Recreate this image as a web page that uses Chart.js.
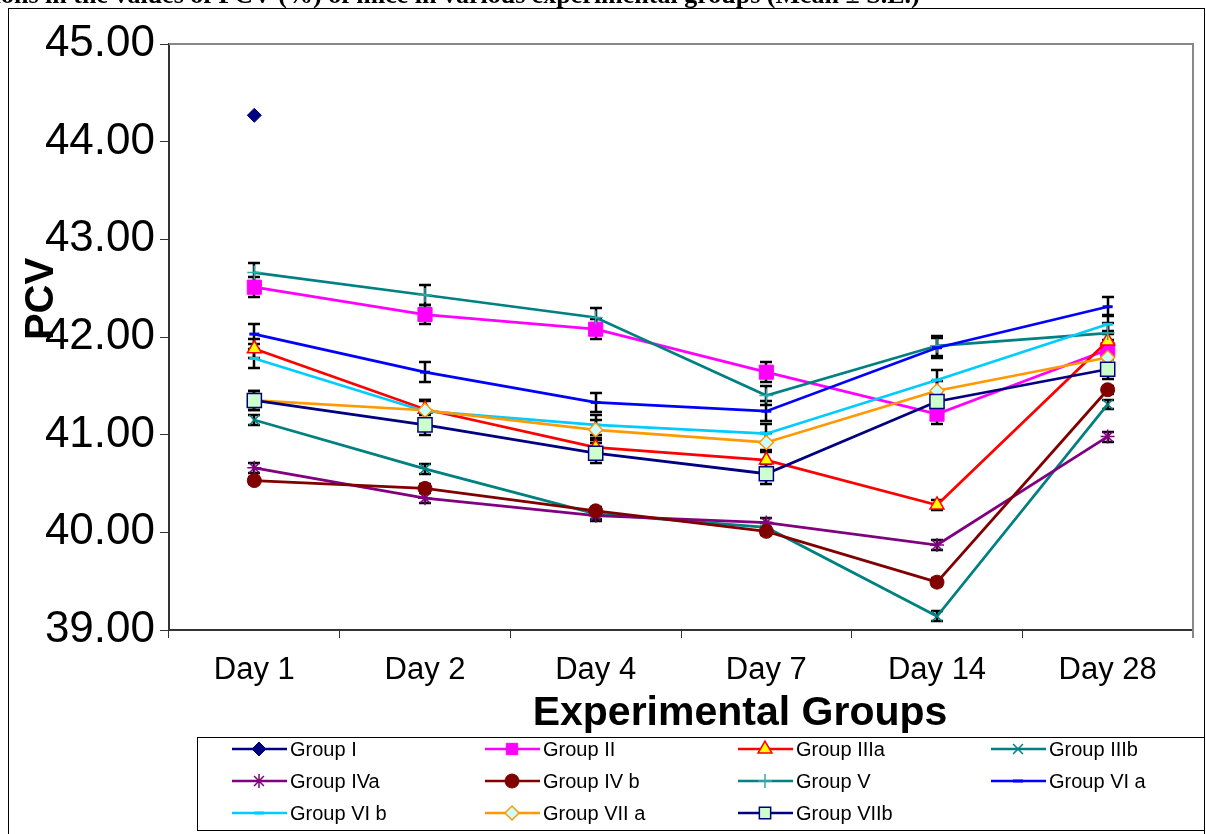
<!DOCTYPE html>
<html>
<head>
<meta charset="utf-8">
<script src="https://cdn.jsdelivr.net/npm/chart.js@4.4.0/dist/chart.umd.min.js"></script>
<style>
html,body{margin:0;padding:0;background:#fff;}
#wrap{position:relative;width:1206px;height:834px;overflow:hidden;}
canvas{display:block;}
</style>
</head>
<body>
<div id="wrap"><canvas id="c" width="1206" height="834"></canvas></div>
<script>
const chartTitle = 'Variations in the values of PCV (%) of mice in various experimental groups (Mean ± S.E.)';
const yAxisTitle = 'PCV';
const xAxisTitle = 'Experimental Groups';
const categories = ['Day 1', 'Day 2', 'Day 4', 'Day 7', 'Day 14', 'Day 28'];
const yTicks = [39, 40, 41, 42, 43, 44, 45];

const seriesNames = ['Group I', 'Group II', 'Group IIIa', 'Group IIIb', 'Group IVa', 'Group IV b',
  'Group V', 'Group VI a', 'Group VI b', 'Group VII a', 'Group VIIb'];

const groupI    = [44.27, null, null, null, null, null];
const groupII   = [42.51, 42.23, 42.08, 41.64, 41.21, 41.87];
const groupIIIa = [41.88, 41.26, 40.87, 40.74, 40.28, 41.96];
const groupIIIb = [41.15, 40.65, 40.19, 40.05, 39.14, 41.31];
const groupIVa  = [40.66, 40.35, 40.17, 40.10, 39.87, 40.98];
const groupIVb  = [40.53, 40.45, 40.22, 40.01, 39.49, 41.46];
const groupV    = [42.66, 42.43, 42.20, 41.40, 41.91, 42.04];
const groupVIa  = [42.03, 41.64, 41.33, 41.24, 41.89, 42.31];
const groupVIb  = [41.78, 41.24, 41.10, 41.01, 41.56, 42.13];
const groupVIIa = [41.35, 41.25, 41.05, 40.92, 41.45, 41.79];
const groupVIIb = [41.35, 41.10, 40.81, 40.60, 41.34, 41.67];

const errI    = [0, 0, 0, 0, 0, 0];
const errII   = [0.10, 0.10, 0.10, 0.10, 0.10, 0.10];
const errIIIa = [0.10, 0.10, 0.10, 0.10, 0.05, 0.10];
const errIIIb = [0.05, 0.05, 0.05, 0.05, 0.05, 0.05];
const errIVa  = [0.05, 0.05, 0.05, 0.05, 0.05, 0.05];
const errIVb  = [0.04, 0.04, 0.04, 0.04, 0.04, 0.04];
const errV    = [0.10, 0.10, 0.10, 0.10, 0.10, 0.10];
const errVIa  = [0.10, 0.10, 0.10, 0.10, 0.10, 0.10];
const errVIb  = [0.10, 0.10, 0.10, 0.10, 0.10, 0.10];
const errVIIa = [0.10, 0.10, 0.10, 0.10, 0.10, 0.10];
const errVIIb = [0.10, 0.10, 0.10, 0.10, 0.10, 0.10];

const seriesValues = [groupI, groupII, groupIIIa, groupIIIb, groupIVa, groupIVb, groupV, groupVIa, groupVIb, groupVIIa, groupVIIb];
const seriesErrors = [errI, errII, errIIIa, errIIIb, errIVa, errIVb, errV, errVIa, errVIb, errVIIa, errVIIb];

const styles = [
  {line:'#000080', fill:'#000080', stroke:'#000080', shape:'rectRot', r:7, bw:1},
  {line:'#FF00FF', fill:'#FF00FF', stroke:'#FF00FF', shape:'rect', r:10, bw:1},
  {line:'#FF0000', fill:'#FFFF00', stroke:'#FF0000', shape:'triangle', r:8, bw:1.5},
  {line:'#008080', fill:'#008080', stroke:'#008080', shape:'crossRot', r:7, bw:1.5},
  {line:'#800080', fill:'#800080', stroke:'#800080', shape:'star', r:7, bw:1.5},
  {line:'#800000', fill:'#800000', stroke:'#800000', shape:'circle', r:7, bw:1},
  {line:'#008080', fill:'#008080', stroke:'#33AAAA', shape:'cross', r:7, bw:1.5},
  {line:'#0000FF', fill:'#FFFFFF', stroke:'#0000FF', shape:'line', r:5, bw:3},
  {line:'#00CCFF', fill:'#FFFFFF', stroke:'#00CCFF', shape:'line', r:5, bw:3},
  {line:'#FF9900', fill:'#CCFFFF', stroke:'#FF9900', shape:'rectRot', r:7, bw:1.5},
  {line:'#000080', fill:'#CCFFCC', stroke:'#000080', shape:'rect', r:10, bw:1.5}
];

const datasets = seriesNames.map((name, i) => ({
  label: name,
  data: seriesValues[i],
  errors: seriesErrors[i],
  borderColor: styles[i].line,
  backgroundColor: styles[i].fill,
  borderWidth: 2.75,
  pointStyle: styles[i].shape,
  pointRadius: styles[i].r,
  pointHoverRadius: styles[i].r,
  pointBackgroundColor: styles[i].fill,
  pointBorderColor: styles[i].stroke,
  pointBorderWidth: styles[i].bw,
  tension: 0,
  spanGaps: false,
  order: seriesNames.length - i
}));

function drawMarker(ctx, s, x, y) {
  const r = s.r;
  ctx.save();
  ctx.fillStyle = s.fill; ctx.strokeStyle = s.stroke; ctx.lineWidth = s.bw;
  ctx.beginPath();
  switch (s.shape) {
    case 'rectRot':
      ctx.moveTo(x - r, y); ctx.lineTo(x, y - r); ctx.lineTo(x + r, y); ctx.lineTo(x, y + r); ctx.closePath();
      ctx.fill(); ctx.stroke(); break;
    case 'rect': {
      const h = r * Math.SQRT1_2;
      ctx.rect(x - h, y - h, 2 * h, 2 * h); ctx.fill(); ctx.stroke(); break; }
    case 'triangle': {
      for (let k = 0; k < 3; k++) {
        const a = k * 2 * Math.PI / 3;
        const px = x + Math.sin(a) * r, py = y - Math.cos(a) * r;
        if (k === 0) ctx.moveTo(px, py); else ctx.lineTo(px, py);
      }
      ctx.closePath(); ctx.fill(); ctx.stroke(); break; }
    case 'circle':
      ctx.arc(x, y, r, 0, Math.PI * 2); ctx.fill(); ctx.stroke(); break;
    case 'crossRot': {
      const h = r * Math.SQRT1_2;
      ctx.moveTo(x - h, y - h); ctx.lineTo(x + h, y + h); ctx.moveTo(x - h, y + h); ctx.lineTo(x + h, y - h); ctx.stroke(); break; }
    case 'cross':
      ctx.moveTo(x, y - r); ctx.lineTo(x, y + r); ctx.moveTo(x - r, y); ctx.lineTo(x + r, y); ctx.stroke(); break;
    case 'star': {
      const h = r * Math.SQRT1_2;
      ctx.moveTo(x, y - r); ctx.lineTo(x, y + r); ctx.moveTo(x - h, y - h); ctx.lineTo(x + h, y + h); ctx.moveTo(x - h, y + h); ctx.lineTo(x + h, y - h); ctx.stroke(); break; }
    case 'line':
      ctx.moveTo(x - r, y); ctx.lineTo(x + r, y); ctx.stroke(); break;
  }
  ctx.restore();
}

const framePlugin = {
  id: 'frame',
  beforeDraw(chart) {
    const ctx = chart.ctx;
    ctx.save();
    ctx.fillStyle = '#fff';
    ctx.fillRect(0, 0, chart.width, chart.height);
    // title (cropped at top)
    ctx.font = 'bold 26px "Liberation Serif"';
    ctx.fillStyle = '#000';
    ctx.textBaseline = 'alphabetic';
    ctx.textAlign = 'left';
    const pre = ctx.measureText('Variati').width;
    ctx.fillText(chartTitle, 1 - pre, 3);
    // outer frame
    ctx.strokeStyle = '#000';
    ctx.lineWidth = 1;
    ctx.strokeRect(8.5, 8.5, 1196, 900);
    ctx.restore();
  },
  beforeDatasetsDraw(chart) {
    const ctx = chart.ctx, a = chart.chartArea;
    ctx.save();
    ctx.strokeStyle = '#888';
    ctx.lineWidth = 2;
    ctx.beginPath();
    ctx.moveTo(a.left, a.top); ctx.lineTo(a.right, a.top); ctx.lineTo(a.right, a.bottom + 8);
    ctx.stroke();
    // error bars
    const ys = chart.scales.y;
    ctx.strokeStyle = '#000';
    ctx.lineWidth = 2.5;
    chart.data.datasets.forEach((ds, i) => {
      const meta = chart.getDatasetMeta(i);
      meta.data.forEach((pt, j) => {
        const v = ds.data[j], e = ds.errors[j];
        if (v == null || !e) return;
        const t = Math.round(ys.getPixelForValue(v + e)), b = Math.round(ys.getPixelForValue(v - e));
        const x = Math.round(pt.x);
        ctx.beginPath();
        ctx.moveTo(x, t); ctx.lineTo(x, b);
        ctx.moveTo(x - 6, t); ctx.lineTo(x + 6, t);
        ctx.moveTo(x - 6, b); ctx.lineTo(x + 6, b);
        ctx.stroke();
      });
    });
    ctx.restore();
  },
  afterDraw(chart) {
    const ctx = chart.ctx;
    ctx.save();
    ctx.fillStyle = '#000';
    // axis titles
    ctx.font = 'bold 41px "Liberation Sans"';
    ctx.textAlign = 'center';
    ctx.textBaseline = 'middle';
    ctx.fillText(xAxisTitle, 740, 714);
    ctx.font = 'bold 40px "Liberation Sans"';
    ctx.translate(42, 299);
    ctx.rotate(-Math.PI / 2);
    ctx.fillText(yAxisTitle, 0, 0);
    ctx.restore();
    // legend
    ctx.save();
    ctx.fillStyle = '#fff';
    ctx.fillRect(197, 737, 1007, 93);
    ctx.strokeStyle = '#000';
    ctx.lineWidth = 1;
    ctx.strokeRect(197.5, 737.5, 1007, 93);
    ctx.font = '20px "Liberation Sans"';
    ctx.textAlign = 'left';
    ctx.textBaseline = 'middle';
    const colX = [232, 485, 738, 991];
    const rowY = [749, 781, 813];
    seriesNames.forEach((name, i) => {
      const cx = colX[i % 4], cy = rowY[Math.floor(i / 4)];
      const s = styles[i];
      ctx.strokeStyle = s.line; ctx.lineWidth = 2.5;
      ctx.beginPath(); ctx.moveTo(cx, cy); ctx.lineTo(cx + 55, cy); ctx.stroke();
      const ms = Object.assign({}, s, {r: Math.min(s.r, 8)});
      drawMarker(ctx, ms, cx + 27, cy);
      ctx.fillStyle = '#000';
      ctx.fillText(name, cx + 58, cy + 1);
    });
    ctx.restore();
  }
};

new Chart(document.getElementById('c'), {
  type: 'line',
  data: { labels: categories, datasets: datasets },
  options: {
    responsive: false,
    devicePixelRatio: 1,
    animation: false,
    events: [],
    layout: { padding: { top: 44, right: 13, left: 0, bottom: 0 } },
    plugins: { legend: { display: false }, title: { display: false }, tooltip: { enabled: false } },
    scales: {
      x: {
        type: 'category',
        offset: true,
        grid: { offset: true, drawOnChartArea: false, drawTicks: true, tickLength: 8, color: '#333', lineWidth: 1 },
        border: { display: true, color: '#333', width: 2 },
        ticks: { color: '#000', font: { family: 'Liberation Sans', size: 31 }, padding: 14, maxRotation: 0, autoSkip: false },
        afterFit: s => { s.height = 204; }
      },
      y: {
        min: yTicks[0],
        max: yTicks[yTicks.length - 1],
        afterBuildTicks: s => { s.ticks = yTicks.map(v => ({ value: v })); },
        grid: { drawOnChartArea: false, drawTicks: true, tickLength: 9, color: '#333', lineWidth: 1 },
        border: { display: true, color: '#333', width: 2 },
        ticks: { color: '#000', font: { family: 'Liberation Sans', size: 44 }, padding: 5, callback: v => Number(v).toFixed(2) },
        afterFit: s => { s.width = 169; }
      }
    }
  },
  plugins: [framePlugin]
});
</script>
</body>
</html>
